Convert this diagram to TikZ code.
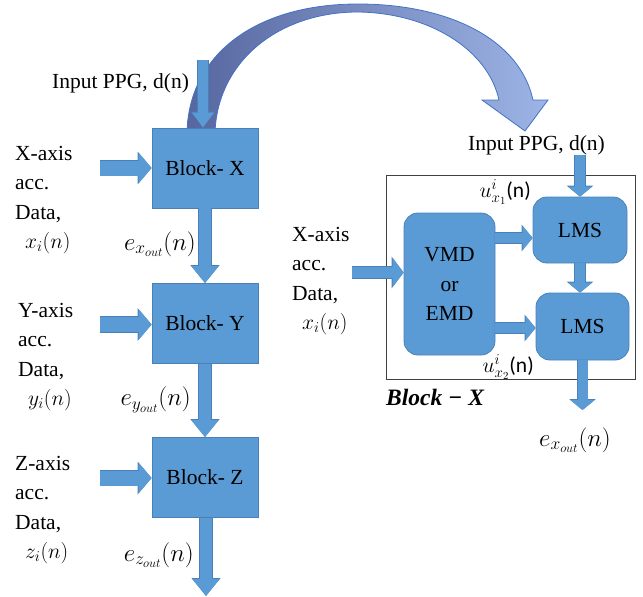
\RequirePackage{fix-cm}
\documentclass[tikz,border=0pt]{standalone}
\usepackage{fontspec}
\setmainfont{Liberation Serif}
\newfontfamily\carlito{Carlito}
\usetikzlibrary{arrows.meta,calc}
\definecolor{bfill}{HTML}{5B9BD5}
\definecolor{bline}{HTML}{4A80B8}
\definecolor{cdark}{HTML}{56679F}
\definecolor{clight}{HTML}{9DB4E6}
\definecolor{cline}{HTML}{4472C4}
\definecolor{boxline}{HTML}{404040}
\begin{document}
\begin{tikzpicture}[x=1pt,y=-1pt,
  every node/.style={inner sep=0pt, font=\fontsize{21.5}{29.5}\selectfont},
  mathlabel/.style={font=\fontsize{25}{30}\selectfont},
  sqblock/.style={draw=bline, fill=bfill, line width=0.8pt, minimum width=106pt, minimum height=80pt},
  rblock/.style={draw=bline, fill=bfill, line width=0.8pt, rounded corners=14pt, align=center},
  inarrow/.style={draw=bfill, line width=15pt, -{Triangle[width=30pt,length=13pt]},
    preaction={draw=bline, line width=16.4pt, -{Triangle[width=32pt,length=14pt]}}},
  downarrow/.style={draw=bfill, line width=12pt, -{Triangle[width=26pt,length=17pt]},
    preaction={draw=bline, line width=13.4pt, -{Triangle[width=28pt,length=18pt]}}},
  ppgarrow/.style={draw=bfill, line width=10pt, -{Triangle[width=21pt,length=15pt]},
    preaction={draw=bline, line width=11.4pt, -{Triangle[width=23pt,length=16pt]}}},
  smallarrow/.style={draw=bfill, line width=10pt, -{Triangle[width=24pt,length=10pt]},
    preaction={draw=bline, line width=11.4pt, -{Triangle[width=26pt,length=11pt]}}},
  rinarrow/.style={draw=bfill, line width=11pt, -{Triangle[width=29pt,length=11pt]},
    preaction={draw=bline, line width=12.4pt, -{Triangle[width=31pt,length=12pt]}}},
  curvearrow/.style={left color=cdark, right color=clight, draw=cline, line width=0.8pt}
]
\useasboundingbox (0,0) rectangle (643,597);

% curved transfer arrow
\path[curvearrow]
  (187,132) .. controls (189,55) and (255,4) .. (358,4)
  .. controls (450,4) and (520,40) .. (533,100)
  -- (548,100) -- (525,131) -- (482,100) -- (499,100)
  .. controls (488,50) and (430,13) .. (358,12)
  .. controls (280,12) and (218,60) .. (215,132) -- cycle;

% left column
\node[sqblock] (bx) at (205,168) {Block- X};
\node[sqblock] (by) at (205,323.5) {Block- Y};
\node[sqblock] (bz) at (205,477.5) {Block- Z};

\node[anchor=west] (ppgl) at (52,83) {Input PPG, d(n)};
\coordinate (ppgin) at (203,60);
\draw[ppgarrow] (ppgin) -- (ppgin |- bx.north);

\node[anchor=west, align=left] (xt) at (15,200) {X-axis\\acc.\\Data,\\\hspace{10pt}$x_i(n)$};
\node[anchor=west, align=left] (yt) at (18,357) {Y-axis\\acc.\\Data,\\\hspace{10pt}$y_i(n)$};
\node[anchor=west, align=left] (zt) at (15,510) {Z-axis\\acc.\\Data,\\\hspace{10pt}$z_i(n)$};

\coordinate (xin) at (100,168);
\coordinate (yin) at (100,324.5);
\coordinate (zin) at (100,478);
\draw[inarrow] (xin) -- (bx.west |- xin);
\draw[inarrow] (yin) -- (by.west |- yin);
\draw[inarrow] (zin) -- (bz.west |- zin);

\draw[downarrow] (bx.south) -- (by.north);
\draw[downarrow] (by.south) -- (bz.north);
\coordinate (zout) at (206,596);
\draw[downarrow] (bz.south -| zout) -- (zout);

\node[mathlabel, anchor=east] (ex) at (196,244) {$e_{x_{out}}(n)$};
\node[mathlabel, anchor=east] (ey) at (191,400) {$e_{y_{out}}(n)$};
\node[mathlabel, anchor=east] (ez) at (194,555) {$e_{z_{out}}(n)$};

% right detail
\node[draw=boxline, line width=1pt, minimum width=249pt, minimum height=204pt] (big) at (510.5,277) {};
\node[rblock, minimum width=91pt, minimum height=142pt] (vmd) at (449.5,284) {VMD\\or\\EMD};
\node[rblock, minimum width=94pt, minimum height=66pt] (lms1) at (580,230) {LMS};
\node[rblock, minimum width=93pt, minimum height=67pt] (lms2) at (582.5,326.5) {LMS};

\node (ppgr) at (536.5,145) {Input PPG, d(n)};
\draw[smallarrow] (lms1.north |- ppgr.south) -- (lms1.north);

\node[anchor=west, align=left] (xtr) at (292,281) {X-axis\\acc.\\Data,\\\hspace{10pt}$x_i(n)$};
\coordinate (xinr) at (352,272.5);
\draw[rinarrow] (xinr) -- (vmd.west |- xinr);

\coordinate (r1) at (0,238);
\coordinate (r2) at (0,328);
\draw[smallarrow] (vmd.east |- r1) -- (lms1.west |- r1);
\draw[smallarrow] (vmd.east |- r2) -- (lms2.west |- r2);
\draw[smallarrow] (lms1.south) -- (lms1.south |- lms2.north);
\coordinate (xoutr) at (582.5,410);
\draw[smallarrow] (lms2.south) -- (xoutr);

\node[anchor=east] (u1) at (531,192) {$u^{i}_{x_1}${\carlito (n)}};
\node[anchor=east] (u2) at (534,367) {$u^{i}_{x_2}${\carlito (n)}};
\node[anchor=west] (blkx) at (386,397) {\fontsize{23.5}{28}\selectfont\textbf{\textit{Block − X}}};
\node[mathlabel] (exr) at (575,440) {$e_{x_{out}}(n)$};
\end{tikzpicture}
\end{document}
